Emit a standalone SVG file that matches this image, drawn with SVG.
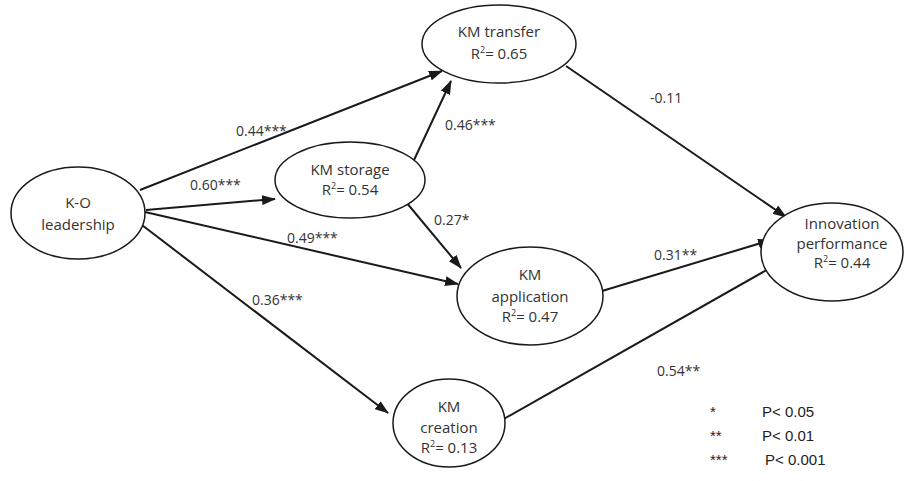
<svg xmlns="http://www.w3.org/2000/svg" width="905" height="481" viewBox="0 0 905 481">
<style>
.n{fill:#fff;stroke:#1a1a1a;stroke-width:1.5}
.t{font-family:"Open Sans","Liberation Sans",sans-serif;font-size:15px;fill:#333;text-anchor:middle}
.l{font-family:"Open Sans","Liberation Sans",sans-serif;font-size:14px;fill:#333}
.g{font-family:"Liberation Sans",sans-serif;font-size:15px;fill:#222}
.c{stroke:#1a1a1a;stroke-width:2;fill:none;marker-end:url(#a)}
.s{font-size:9px}
</style>
<defs>
<marker id="a" viewBox="0 0 14 10" refX="13" refY="5" markerWidth="14" markerHeight="10" markerUnits="userSpaceOnUse" orient="auto">
<path d="M0,0 L14,5 L0,10 Z" fill="#1a1a1a"/>
</marker>
</defs>
<g id="connectors">
<line class="c" x1="140" y1="190" x2="442" y2="71"/>
<line class="c" x1="146" y1="210" x2="275" y2="199"/>
<line class="c" x1="145" y1="212" x2="458" y2="284"/>
<line class="c" x1="138" y1="222" x2="388" y2="413"/>
<line class="c" x1="414" y1="160" x2="451" y2="81"/>
<line class="c" x1="406" y1="202" x2="461" y2="268"/>
<line class="c" x1="566" y1="66" x2="786" y2="217"/>
<line class="c" x1="602" y1="291" x2="771" y2="240"/>
<line class="c" x1="502" y1="420" x2="779" y2="263"/>
</g>
<g id="labels">
<text class="l" x="236" y="136">0.44***</text>
<text class="l" x="190" y="190">0.60***</text>
<text class="l" x="287" y="243">0.49***</text>
<text class="l" x="252" y="305">0.36***</text>
<text class="l" x="445" y="130">0.46***</text>
<text class="l" x="434" y="225">0.27*</text>
<text class="l" x="650" y="103">-0.11</text>
<text class="l" x="654" y="260">0.31**</text>
<text class="l" x="657" y="376">0.54**</text>
</g>
<g id="ko">
<ellipse class="n" cx="78" cy="213" rx="67" ry="46"/>
<text class="t" x="78" y="208">K-O</text>
<text class="t" x="78" y="230">leadership</text>
</g>
<g id="storage">
<ellipse class="n" cx="350" cy="180" rx="75" ry="38"/>
<text class="t" x="350" y="175">KM storage</text>
<text class="t" x="350" y="195">R<tspan class="s" dy="-6">2</tspan><tspan dy="6">= 0.54</tspan></text>
</g>
<g id="transfer">
<ellipse class="n" cx="499" cy="44" rx="77" ry="39"/>
<text class="t" x="499" y="37">KM transfer</text>
<text class="t" x="499" y="59">R<tspan class="s" dy="-6">2</tspan><tspan dy="6">= 0.65</tspan></text>
</g>
<g id="application">
<ellipse class="n" cx="530" cy="296" rx="73" ry="49"/>
<text class="t" x="530" y="280">KM</text>
<text class="t" x="530" y="302">application</text>
<text class="t" x="530" y="322">R<tspan class="s" dy="-6">2</tspan><tspan dy="6">= 0.47</tspan></text>
</g>
<g id="creation">
<ellipse class="n" cx="449" cy="423" rx="56" ry="44"/>
<text class="t" x="449" y="412">KM</text>
<text class="t" x="449" y="433">creation</text>
<text class="t" x="449" y="453">R<tspan class="s" dy="-6">2</tspan><tspan dy="6">= 0.13</tspan></text>
</g>
<g id="innovation">
<ellipse class="n" cx="832" cy="252" rx="71" ry="49"/>
<text class="t" x="842" y="229">Innovation</text>
<text class="t" x="842" y="249">performance</text>
<text class="t" x="842" y="268">R<tspan class="s" dy="-6">2</tspan><tspan dy="6">= 0.44</tspan></text>
</g>
<g id="legend">
<text class="g" x="710" y="417">*</text>
<text class="g" x="762" y="417">P&lt; 0.05</text>
<text class="g" x="710" y="441">**</text>
<text class="g" x="762" y="441">P&lt; 0.01</text>
<text class="g" x="710" y="465">***</text>
<text class="g" x="765" y="465">P&lt; 0.001</text>
</g>
</svg>
